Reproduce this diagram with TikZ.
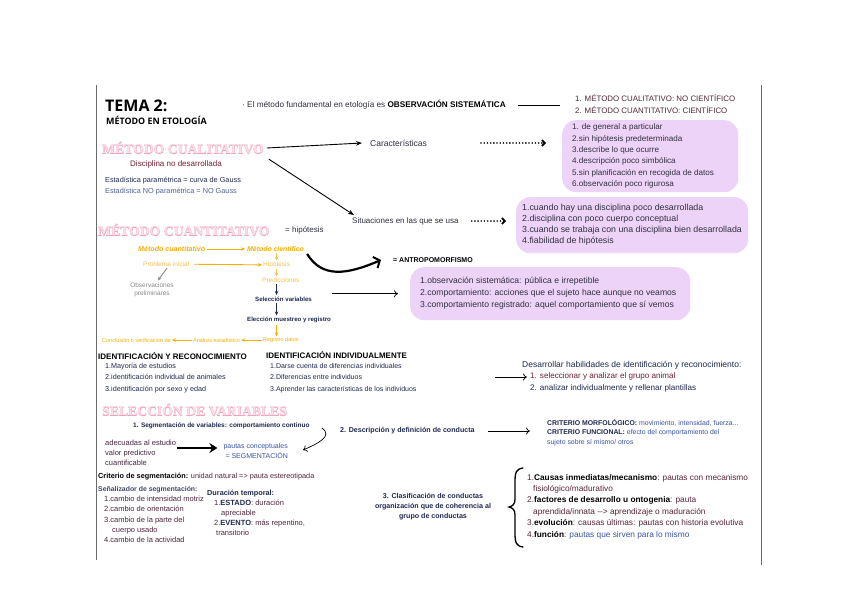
\documentclass[tikz,border=0pt]{standalone}
\usepackage{fontspec}
\setmainfont{Liberation Sans}
\newfontfamily\titlefont{Open Sans}
\newfontfamily\decofont{Liberation Serif}
\newfontfamily\decoout{Liberation Serif}[BoldFeatures={FakeBold=2.5}]
\usetikzlibrary{arrows.meta}
\definecolor{txtc}{HTML}{2F3040}
\definecolor{navyc}{HTML}{1E2A4E}
\definecolor{maroonc}{HTML}{6E2233}
\definecolor{bluec}{HTML}{3A55A0}
\definecolor{goldc}{HTML}{F2B000}
\definecolor{lgoldc}{HTML}{F5C24C}
\definecolor{pinkc}{HTML}{FBDDE7}
\definecolor{pinkd}{HTML}{EDA5BE}
\definecolor{boxc}{HTML}{EED3F8}
\definecolor{framec}{HTML}{6A6A6A}
\definecolor{grayc}{HTML}{8A8A8A}
\tikzset{
  base/.style={inner sep=0pt, anchor=west, text=txtc, font=\fontsize{7.5}{9}\selectfont},
  ml/.style={base, align=left},
  hd/.style={base, font=\fontsize{8}{9}\selectfont\bfseries, text=black},
  decoo/.style={inner sep=0pt, anchor=west, text=pinkd, font=\decoout\fontsize{13.7}{15}\selectfont\bfseries},
  decoi/.style={inner sep=0pt, anchor=west, text=pinkc, font=\decofont\fontsize{13.7}{15}\selectfont\bfseries},
  pbox/.style={fill=boxc, rounded corners=14pt, anchor=north west, inner sep=0pt},
  arr/.style={-{Stealth[length=6pt,width=4.5pt]}, line width=0.9pt},
  thinarr/.style={-{To[length=4pt,width=7pt]}, line width=0.7pt},
  dotarr/.style={line width=1.8pt, dash pattern=on 0pt off 3.2pt, line cap=round, -{Straight Barb[length=3pt,width=6pt,line width=1.6pt]}},
  garr/.style={-{Stealth[length=4pt,width=3.5pt]}, line width=0.9pt, draw=goldc},
  narr/.style={-{Stealth[length=4pt,width=3.5pt]}, line width=0.9pt, draw=navyc},
  fatarr/.style={-{Stealth[length=8pt,width=10pt]}, line width=2.8pt},
  fl/.style={inner sep=0pt, anchor=west, font=\fontsize{6.5}{8}\selectfont},
}
\begin{document}
\begin{tikzpicture}[x=1pt,y=-1pt]
\useasboundingbox[fill=white] (0,0) rectangle (848,599);
\draw[framec, line width=0.8pt] (96,85) -- (96,560);
\draw[framec, line width=0.8pt] (761,85) -- (761,565);

% ---------- title ----------
\node[inner sep=0pt, anchor=west, font=\titlefont\fontsize{16}{18}\selectfont\bfseries] (tema) at (105,106) {TEMA 2:};
\node[inner sep=0pt, anchor=west, font=\titlefont\fontsize{8.9}{10}\selectfont\bfseries] (etol) at (106,120) {MÉTODO EN ETOLOGÍA};
\node[base, font=\fontsize{8.2}{10}\selectfont] (obs) at (242,105) {· El método fundamental en etología es \textbf{\color{black}OBSERVACIÓN SISTEMÁTICA}};
\node[ml, font=\fontsize{7.9}{11.5}\selectfont, text=maroonc!50!txtc] (metlist) at (575,104) {1. MÉTODO CUALITATIVO: NO CIENTÍFICO\\2. MÉTODO CUANTITATIVO: CIENTÍFICO};
\draw[line width=0.8pt, shorten <=12pt, shorten >=15pt] (obs.east) -- (obs.east -| metlist.west);

% ---------- cualitativo ----------
\node[decoo] at (102,148) {MÉTODO CUALITATIVO};
\node[decoi] (cual) at (102,148) {MÉTODO CUALITATIVO};
\node[base, font=\fontsize{8}{10}\selectfont, text=maroonc, anchor=center] (disc) at (176,164) {Disciplina no desarrollada};
\node[ml, font=\fontsize{7.3}{10.5}\selectfont, text=navyc] (estad) at (105,186) {Estadística paramétrica = curva de Gauss\\\textcolor{bluec!70!gray}{Estadística NO paramétrica = NO Gauss}};
\node[base, font=\fontsize{8.5}{10}\selectfont] (caract) at (370,143) {Características};
\node[base, font=\fontsize{8}{10}\selectfont] (situ) at (352,221) {Situaciones en las que se usa};
\draw[arr] ([xshift=3]cual.east) -- ([xshift=-8]caract.west);
\draw[arr] ([xshift=5,yshift=-5]cual.south east) -- ([xshift=2,yshift=2]situ.north west);

% purple boxes
\node[pbox, minimum width=176, minimum height=72] (box1) at (562,120) {};
\node[ml, font=\fontsize{8.1}{11.4}\selectfont] (box1t) at ([xshift=10]box1.west) {1. de general a particular\\2.sin hipótesis predeterminada\\3.describe lo que ocurre\\4.descripción poco simbólica\\5.sin planificación en recogida de datos\\6.observación poco rigurosa};
\node[pbox, minimum width=232, minimum height=56] (box2) at (516,197) {};
\node[ml, font=\fontsize{8.8}{11}\selectfont] (box2t) at ([xshift=6]box2.west) {1.cuando hay una disciplina poco desarrollada\\2.disciplina con poco cuerpo conceptual\\3.cuando se trabaja con una disciplina bien desarrollada\\4.fiabilidad de hipótesis};
\node[pbox, minimum width=280, minimum height=53] (box3) at (410,267) {};
\node[ml, font=\fontsize{8.6}{12}\selectfont] (box3t) at ([xshift=10]box3.west) {1.observación sistemática: pública e irrepetible\\2.comportamiento: acciones que el sujeto hace aunque no veamos\\3.comportamiento registrado: aquel comportamiento que sí vemos};

\draw[dotarr, shorten <=54pt, shorten >=16pt] (caract.east) -- (caract.east -| box1.west);
\draw[dotarr, shorten <=13pt, shorten >=10pt] (situ.east) -- (situ.east -| box2.west);

% ---------- cuantitativo ----------
\node[decoo] at (98,230) {MÉTODO CUANTITATIVO};
\node[decoi] (cuant) at (98,230) {MÉTODO CUANTITATIVO};
\node[base, font=\fontsize{8}{10}\selectfont] (hipot) at (285,230) {= hipótesis};

\node[fl, text=goldc, font=\fontsize{7.1}{8}\selectfont\bfseries\itshape] (mcuant) at (138,249) {Método cuantitativo};
\node[fl, text=goldc, font=\fontsize{6.9}{8}\selectfont\bfseries\itshape] (mcien) at (247,249) {Método científico};
\node[fl, text=lgoldc] (prob) at (143,264) {Problema inicial};
\node[fl, text=lgoldc] (hipo) at (263,265) {Hipótesis};
\node[fl, text=lgoldc] (pred) at (262,280) {Predicciones};
\node[fl, text=navyc, font=\fontsize{6.1}{8}\selectfont\bfseries] (selvar) at (255,299) {Selección variables};
\node[fl, text=navyc, font=\fontsize{6.1}{8}\selectfont\bfseries] (elec) at (247,320) {Elección muestreo y registro};
\node[ml, align=center, anchor=center, text=grayc, font=\fontsize{6.5}{7.5}\selectfont] (obsprel) at (152,290) {Observaciones\\preliminares};

\draw[garr, shorten <=2pt, shorten >=2pt] (mcuant) -- (mcien);
\draw[garr, shorten <=5pt, shorten >=1pt] (prob) -- (hipo);
\draw[garr, draw=lgoldc, shorten <=1pt, shorten >=1pt] (hipo.north |- mcien.south) -- (hipo.north);
\draw[garr, draw=lgoldc, shorten <=1pt, shorten >=1pt] (hipo.south) -- (hipo.south |- pred.north);
\draw[narr, shorten <=1.5pt, shorten >=1.5pt] (hipo.south |- pred.south) -- (hipo.south |- selvar.north);
\draw[narr, shorten <=1.5pt, shorten >=1.5pt] (hipo.south |- selvar.south) -- (hipo.south |- elec.north);
\draw[-{Stealth[length=4pt,width=3.5pt]}, grayc, line width=0.9pt, shorten <=2pt, shorten >=3pt] ([xshift=2]prob.south) -- ([xshift=4]obsprel.north);

\begin{scope}
\clip (96,330) rectangle (345,341);
\node[fl, text=goldc, font=\fontsize{5.5}{7}\selectfont] (conc) at (102,340) {Conclusión o verificación de};
\node[fl, text=goldc, font=\fontsize{5.5}{7}\selectfont] (anal) at (193,340) {Análisis estadístico};
\node[fl, text=goldc, font=\fontsize{5.5}{7}\selectfont] (reg) at (263,340) {Registro datos};
\draw[garr, shorten <=1pt, shorten >=1pt] (reg) -- (anal);
\draw[garr, shorten <=1pt, shorten >=1pt] (anal) -- (conc);
\end{scope}
\draw[garr, shorten <=1.5pt, shorten >=1pt] (hipo.south |- elec.south) -- (hipo.south |- reg.north);

\node[base, font=\fontsize{7}{9}\selectfont\bfseries, text=black] (antro) at (393,260) {= ANTROPOMORFISMO};
\draw[line width=2.2pt, -{Straight Barb[length=5pt,width=12pt,line width=2pt]}] ([xshift=3,yshift=-5]mcien.east) .. controls +(15,24) and +(-35,15) .. ([xshift=-12]antro.west);
\draw[thinarr, shorten <=20pt, shorten >=12pt] (selvar.east |- box3.west) -- (box3.west);

% ---------- identificación ----------
\node[hd] (idrec) at (98,356) {IDENTIFICACIÓN Y RECONOCIMIENTO};
\node[ml, font=\fontsize{7.2}{11.2}\selectfont, text=navyc] (idrecl) at (105,378) {1.Mayoría de estudios\\2.identificación individual de animales\\3.identificación por sexo y edad};
\node[hd] (idind) at (266,355) {IDENTIFICACIÓN INDIVIDUALMENTE};
\node[ml, font=\fontsize{7}{11.2}\selectfont, text=navyc] (idindl) at (270,378) {1.Darse cuenta de diferencias individuales\\2.Diferencias entre individuos\\3.Aprender las características de los individuos};
\node[base, font=\fontsize{8.5}{9}\selectfont, text=navyc] (desa) at (522,365) {Desarrollar habilidades de identificación y reconocimiento:};
\node[base, font=\fontsize{8.1}{9}\selectfont, text=maroonc] (desa1) at (530,376.5) {1. seleccionar y analizar el grupo animal};
\node[base, font=\fontsize{8.1}{9}\selectfont, text=navyc] (desa2) at (530,388) {2. analizar individualmente y rellenar plantillas};
\coordinate (idarr) at (495,377);
\draw[thinarr, shorten >=3pt] (idarr) -- (idarr -| desa1.west);

% ---------- selección de variables ----------
\node[decoo] at (102,410) {SELECCIÓN DE VARIABLES};
\node[decoi] (selh) at (102,410) {SELECCIÓN DE VARIABLES};
\node[base, font=\fontsize{6.5}{8}\selectfont\bfseries, text=navyc] (segvar) at (133,426) {1. Segmentación de variables: comportamiento continuo};
\node[ml, font=\fontsize{7.5}{10}\selectfont, text=maroonc!50!navyc] (adec) at (105,453) {adecuadas al estudio\\valor predictivo\\cuantificable};
\node[base, anchor=east, align=right, font=\fontsize{7}{10}\selectfont, text=bluec] (pautas) at (288,451) {pautas conceptuales\\= SEGMENTACIÓN};
\draw[fatarr, shorten <=1pt, shorten >=6pt] (adec.east |- 0,448) -- (pautas.west |- 0,448);
\draw[thinarr] ([xshift=12,yshift=-2]segvar.east) .. controls +(12,8) and +(14,-6) .. ([xshift=15,yshift=1]pautas.east);

\node[base, font=\fontsize{7.1}{8}\selectfont\bfseries, text=navyc] (desc) at (340,431) {2. Descripción y definición de conducta};
\node[ml, font=\fontsize{6.9}{9.5}\selectfont, text=bluec] (crit) at (547,432.5) {\textbf{\color{navyc}CRITERIO MORFOLÓGICO:} movimiento, intensidad, fuerza...\\\textbf{\color{navyc}CRITERIO FUNCIONAL:} efecto del comportamiento del\\sujeto sobre sí mismo/ otros};
\draw[thinarr, shorten <=13pt, shorten >=17pt] (desc.east) -- (desc.east -| crit.west);

\node[base, font=\fontsize{7.3}{9}\selectfont, text=maroonc!60!navyc] (critseg) at (98,477) {\textbf{\color{black}Criterio de segmentación:} unidad natural => pauta estereotipada};
\node[base, font=\fontsize{6.9}{9}\selectfont\bfseries, text=navyc!85] (senal) at (98,490) {Señalizador de segmentación:};
\node[ml, font=\fontsize{7.5}{10.25}\selectfont, text=maroonc!60!navyc] (senall) at (104,519.5) {1.cambio de intensidad motriz\\2.cambio de orientación\\3.cambio de la parte del\\\hspace*{8pt}cuerpo usado\\4.cambio de la actividad};
\node[base, font=\fontsize{7.3}{8}\selectfont\bfseries, text=navyc] (dur) at (207,494) {Duración temporal:};
\node[ml, font=\fontsize{7.5}{10}\selectfont, text=maroonc!60!navyc] (durl) at (214,518) {1.\textbf{\color{navyc}ESTADO}: duración\\\hspace*{7pt}apreciable\\2.\textbf{\color{navyc}EVENTO}: más repentino,\\\hspace*{2pt}transitorio};

\node[ml, align=center, anchor=center, font=\fontsize{7.1}{10}\selectfont\bfseries, text=navyc] (clas) at (433,507) {3. Clasificación de conductas\\organización que de coherencia al\\grupo de conductas};
\draw[line width=1.3pt, line cap=round] (523,468) .. controls (516,469) and (515,473) .. (515,480) -- (515,499) .. controls (515,504) and (513,506) .. (509,507) .. controls (513,508) and (515,510) .. (515,515) -- (515,535) .. controls (515,542) and (516,546) .. (523,547);
\node[ml, font=\fontsize{8.3}{11.4}\selectfont, text=maroonc!70!navyc] (clasl) at (527,506.5) {1.\textbf{\color{black}Causas inmediatas/mecanismo}: pautas con mecanismo\\\hspace*{6pt}fisiológico/madurativo\\2.\textbf{\color{black}factores de desarrollo u ontogenia}: pauta\\\hspace*{6pt}aprendida/innata -{}-> aprendizaje o maduración\\3.\textbf{\color{black}evolución}: causas últimas: pautas con historia evolutiva\\4.\textbf{\color{black}función}: \textcolor{bluec}{pautas que sirven para lo mismo}};
\end{tikzpicture}
\end{document}
